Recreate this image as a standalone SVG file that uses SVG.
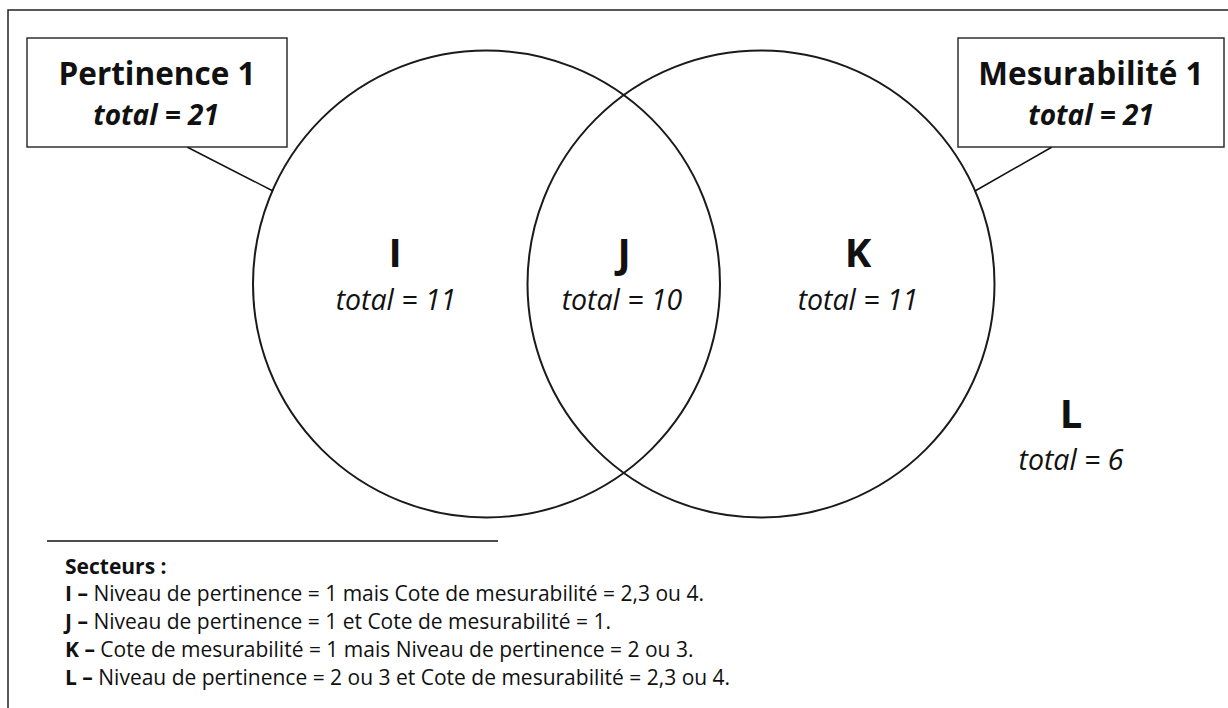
<svg xmlns="http://www.w3.org/2000/svg" width="1228" height="708" viewBox="0 0 1228 708">
<style>
  .frame{fill:none;stroke:#222;stroke-width:1.5}
  .box{fill:#fff;stroke:#222;stroke-width:1.4}
  .circ{fill:none;stroke:#1a1a1a;stroke-width:2}
  .conn{fill:none;stroke:#111;stroke-width:1.5}
  .t{font-family:"Open Sans","Noto Sans","Liberation Sans",sans-serif;fill:#111}
  .title{font-size:31.5px;font-weight:bold;text-anchor:middle}
  .btot{font-size:28px;font-weight:bold;font-style:italic;text-anchor:middle}
  .big{font-size:40px;font-weight:bold;text-anchor:middle}
  .tot{font-size:28.5px;font-style:italic;text-anchor:middle}
  .leg{font-size:21px}
  .b{font-weight:bold}
</style>
<rect width="1228" height="708" fill="#fff"/>
<path class="frame" d="M8,708 V10 H1228"/>
<g id="circles">
  <circle id="circle-pertinence" class="circ" cx="486.5" cy="284" r="233.5"/>
  <circle id="circle-mesurabilite" class="circ" cx="761" cy="284" r="233.5"/>
</g>
<g id="connectors">
  <line class="conn" x1="187" y1="147" x2="273" y2="191"/>
  <line class="conn" x1="1052" y1="147" x2="975" y2="191"/>
</g>
<g id="node-pertinence">
  <rect class="box" x="27" y="38" width="260" height="109"/>
  <text class="t title" x="157" y="85">Pertinence 1</text>
  <text class="t btot" x="156" y="125">total = 21</text>
</g>
<g id="node-mesurabilite">
  <rect class="box" x="958" y="38" width="266" height="109"/>
  <text class="t title" x="1091" y="85">Mesurabilité 1</text>
  <text class="t btot" x="1091" y="125">total = 21</text>
</g>
<g id="sector-I">
  <text class="t big" x="395" y="267">I</text>
  <text class="t tot" x="396" y="310">total = 11</text>
</g>
<g id="sector-J">
  <text class="t big" x="624" y="267">J</text>
  <text class="t tot" x="622" y="310">total = 10</text>
</g>
<g id="sector-K">
  <text class="t big" x="858" y="267">K</text>
  <text class="t tot" x="858" y="310">total = 11</text>
</g>
<g id="sector-L">
  <text class="t big" x="1071" y="428">L</text>
  <text class="t tot" x="1071" y="470">total = 6</text>
</g>
<g id="legend">
  <line class="conn" x1="47" y1="541" x2="498" y2="541"/>
  <text class="t leg b" x="65" y="574">Secteurs :</text>
  <text class="t leg" x="65" y="601"><tspan class="b">I –</tspan> Niveau de pertinence = 1 mais Cote de mesurabilité = 2,3 ou 4.</text>
  <text class="t leg" x="65" y="629"><tspan class="b">J –</tspan> Niveau de pertinence = 1 et Cote de mesurabilité = 1.</text>
  <text class="t leg" x="65" y="657"><tspan class="b">K –</tspan> Cote de mesurabilité = 1 mais Niveau de pertinence = 2 ou 3.</text>
  <text class="t leg" x="65" y="685"><tspan class="b">L –</tspan> Niveau de pertinence = 2 ou 3 et Cote de mesurabilité = 2,3 ou 4.</text>
</g>
</svg>
